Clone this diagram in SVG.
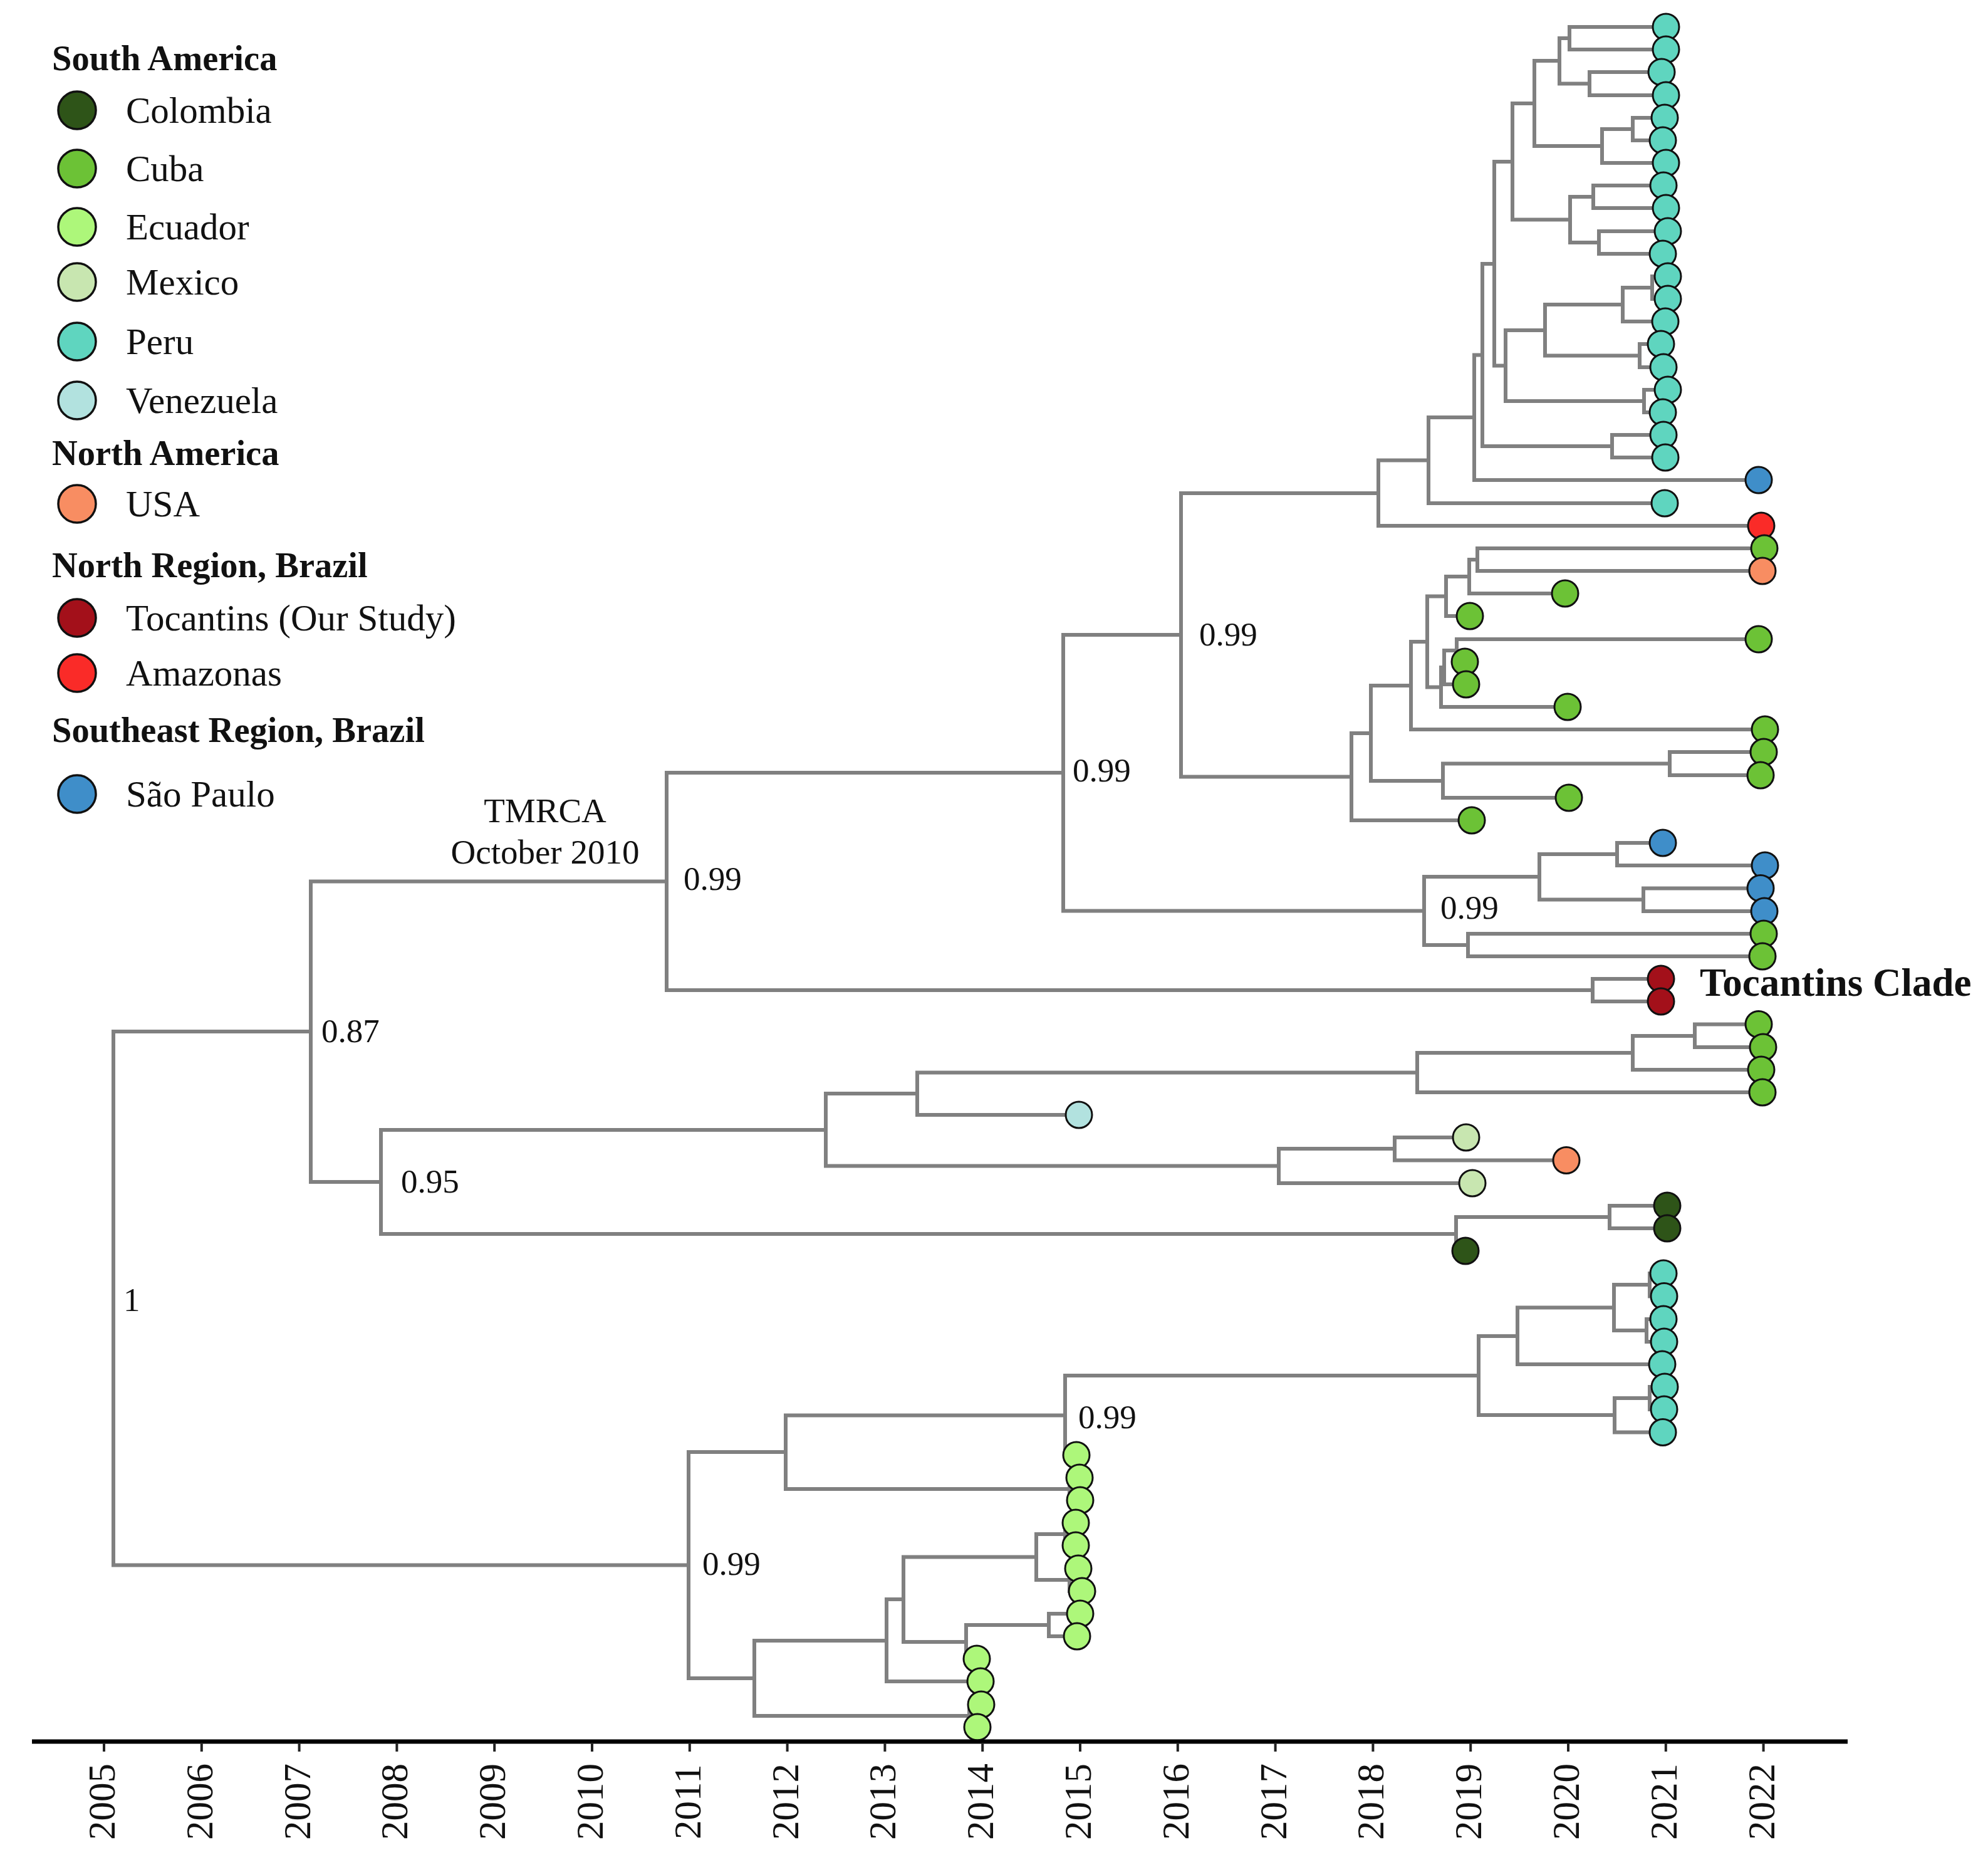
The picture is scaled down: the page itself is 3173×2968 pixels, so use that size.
<svg xmlns="http://www.w3.org/2000/svg" width="3173" height="2968" viewBox="0 0 3173 2968">
<style>
text{font-family:"Liberation Serif","Times New Roman",serif;fill:#111}
.hd{font-weight:bold;font-size:56.5px}
.lb{font-size:59px}
.nl{font-size:53px}
.yr{font-size:61px;fill:#3a3a3a}
.br{fill:none;stroke:#808080;stroke-width:6;stroke-linejoin:miter}
.tip{stroke:#111;stroke-width:3}
.leg{stroke:#111;stroke-width:3.5}
.col{fill:#2e5418}.cub{fill:#6cc236}.ecu{fill:#adf77a}.mex{fill:#c8e6b0}.per{fill:#5fd5bf}.ven{fill:#b2e2df}.usa{fill:#f88d62}.toc{fill:#a3101a}.ama{fill:#fa2b28}.sao{fill:#3f8ec9}
</style>
<rect width="3173" height="2968" fill="#fff"/>
<g id="legend">
<text class="hd" x="83" y="112">South America</text>
<circle class="leg col" cx="123" cy="176" r="30"/><text class="lb" x="201" y="196">Colombia</text>
<circle class="leg cub" cx="123" cy="269" r="30"/><text class="lb" x="201" y="289">Cuba</text>
<circle class="leg ecu" cx="123" cy="362" r="30"/><text class="lb" x="201" y="382">Ecuador</text>
<circle class="leg mex" cx="123" cy="450" r="30"/><text class="lb" x="201" y="470">Mexico</text>
<circle class="leg per" cx="123" cy="545" r="30"/><text class="lb" x="201" y="565">Peru</text>
<circle class="leg ven" cx="123" cy="639" r="30"/><text class="lb" x="201" y="659">Venezuela</text>
<text class="hd" x="83" y="742">North America</text>
<circle class="leg usa" cx="123" cy="804" r="30"/><text class="lb" x="201" y="824">USA</text>
<text class="hd" x="83" y="921">North Region, Brazil</text>
<circle class="leg toc" cx="123" cy="986" r="30"/><text class="lb" x="201" y="1006">Tocantins (Our Study)</text>
<circle class="leg ama" cx="123" cy="1074" r="30"/><text class="lb" x="201" y="1094">Amazonas</text>
<text class="hd" x="83" y="1184">Southeast Region, Brazil</text>
<circle class="leg sao" cx="123" cy="1267" r="30"/><text class="lb" x="201" y="1287">São Paulo</text>
</g>
<g id="connectors" class="br">
<path d="M2659 43H2505V79H2659"/>
<path d="M2652 115H2537V152H2659"/>
<path d="M2505 61H2489V133.5H2537"/>
<path d="M2657 188H2606V224H2654"/>
<path d="M2606 206H2557V260H2659"/>
<path d="M2489 97H2449V233H2557"/>
<path d="M2655 296H2543V332H2659"/>
<path d="M2662 369H2552V405H2654"/>
<path d="M2543 314H2506V387H2552"/>
<path d="M2449 165H2414V350.5H2506"/>
<path d="M2662 441H2637V477H2662"/>
<path d="M2637 459H2590V513H2658"/>
<path d="M2651 549H2617V586H2655"/>
<path d="M2590 486H2466V567.5H2617"/>
<path d="M2662 622H2624V658H2654"/>
<path d="M2466 527H2403V640H2624"/>
<path d="M2414 258H2385V583.5H2403"/>
<path d="M2655 694H2573V730H2658"/>
<path d="M2385 421H2366V712H2573"/>
<path d="M2366 566.5H2353V766H2807"/>
<path d="M2353 666H2280V803H2657"/>
<path d="M2280 734.5H2200V839H2811"/>
<path d="M2816 875H2358V911H2813"/>
<path d="M2358 893H2345V947H2498"/>
<path d="M2345 920H2308V983H2346"/>
<path d="M2807 1020H2325V1056H2338"/>
<path d="M2325 1038H2305V1092H2340"/>
<path d="M2305 1065H2300V1128H2502"/>
<path d="M2308 951.5H2278V1096.5H2300"/>
<path d="M2278 1024H2252V1164H2817"/>
<path d="M2815 1200H2665V1237H2810"/>
<path d="M2665 1218.5H2303V1273H2504"/>
<path d="M2252 1094H2188V1246H2303"/>
<path d="M2188 1170H2157V1309H2349"/>
<path d="M2200 787H1885V1239.5H2157"/>
<path d="M2654 1345H2581V1381H2817"/>
<path d="M2810 1417.5H2623V1454H2816"/>
<path d="M2581 1363H2457V1435.5H2623"/>
<path d="M2815 1490H2343V1526H2813"/>
<path d="M2457 1399H2273V1508H2343"/>
<path d="M1885 1013H1697V1453.5H2273"/>
<path d="M2651 1562H2542V1598H2651"/>
<path d="M1697 1233H1064V1580H2542"/>
<path d="M2807 1634.5H2705V1671H2814"/>
<path d="M2705 1653H2606V1707H2811"/>
<path d="M2606 1680H2262V1743H2813"/>
<path d="M2262 1711.5H1464V1779H1722"/>
<path d="M2340 1815H2226V1851.5H2500"/>
<path d="M2226 1833H2041V1888H2350"/>
<path d="M1464 1745H1318V1860.5H2041"/>
<path d="M2661 1924H2569V1960H2661"/>
<path d="M2569 1942H2324V1996H2339"/>
<path d="M1318 1803H608V1969H2324"/>
<path d="M1064 1406.5H496V1886H608"/>
<path d="M2655 2032H2633V2068.5H2655"/>
<path d="M2655 2105H2628V2141H2655"/>
<path d="M2633 2050H2576V2123H2628"/>
<path d="M2576 2086.5H2422V2177H2655"/>
<path d="M2655 2213H2633V2249H2655"/>
<path d="M2633 2231H2577V2285.5H2655"/>
<path d="M2422 2132H2360V2258H2577"/>
<path d="M2360 2195H1700V2322H1718"/>
<path d="M1723 2358H1707V2394H1724"/>
<path d="M1700 2258.5H1254V2376H1707"/>
<path d="M1717 2430H1700V2466H1717"/>
<path d="M1721 2503H1707V2539H1727"/>
<path d="M1700 2448H1654V2521H1707"/>
<path d="M1724 2575H1674V2611H1719"/>
<path d="M1674 2593H1542V2647H1559"/>
<path d="M1654 2484.5H1442V2620H1542"/>
<path d="M1442 2552H1415V2683H1565"/>
<path d="M1566 2720H1547V2756H1560"/>
<path d="M1415 2618H1204V2738H1547"/>
<path d="M1254 2317H1099V2678H1204"/>
<path d="M496 1646H181V2497.5H1099"/>
</g>
<g id="tips" class="tip">
<g id="t0"><circle class="per" cx="2659" cy="43" r="21"/></g>
<g id="t1"><circle class="per" cx="2659" cy="79" r="21"/></g>
<g id="t2"><circle class="per" cx="2652" cy="115" r="21"/></g>
<g id="t3"><circle class="per" cx="2659" cy="152" r="21"/></g>
<g id="t4"><circle class="per" cx="2657" cy="188" r="21"/></g>
<g id="t5"><circle class="per" cx="2654" cy="224" r="21"/></g>
<g id="t6"><circle class="per" cx="2659" cy="260" r="21"/></g>
<g id="t7"><circle class="per" cx="2655" cy="296" r="21"/></g>
<g id="t8"><circle class="per" cx="2659" cy="332" r="21"/></g>
<g id="t9"><circle class="per" cx="2662" cy="369" r="21"/></g>
<g id="t10"><circle class="per" cx="2654" cy="405" r="21"/></g>
<g id="t11"><circle class="per" cx="2662" cy="441" r="21"/></g>
<g id="t12"><circle class="per" cx="2662" cy="477" r="21"/></g>
<g id="t13"><circle class="per" cx="2658" cy="513" r="21"/></g>
<g id="t14"><circle class="per" cx="2651" cy="549" r="21"/></g>
<g id="t15"><circle class="per" cx="2655" cy="586" r="21"/></g>
<g id="t16"><circle class="per" cx="2662" cy="622" r="21"/></g>
<g id="t17"><circle class="per" cx="2654" cy="658" r="21"/></g>
<g id="t18"><circle class="per" cx="2655" cy="694" r="21"/></g>
<g id="t19"><circle class="per" cx="2658" cy="730" r="21"/></g>
<g id="t20"><circle class="sao" cx="2807" cy="766" r="21"/></g>
<g id="t21"><circle class="per" cx="2657" cy="803" r="21"/></g>
<g id="t22"><circle class="ama" cx="2811" cy="839" r="21"/></g>
<g id="t23"><circle class="cub" cx="2816" cy="875" r="21"/></g>
<g id="t24"><circle class="usa" cx="2813" cy="911" r="21"/></g>
<g id="t25"><circle class="cub" cx="2498" cy="947" r="21"/></g>
<g id="t26"><circle class="cub" cx="2346" cy="983" r="21"/></g>
<g id="t27"><circle class="cub" cx="2807" cy="1020" r="21"/></g>
<g id="t28"><circle class="cub" cx="2338" cy="1056" r="21"/></g>
<g id="t29"><circle class="cub" cx="2340" cy="1092" r="21"/></g>
<g id="t30"><circle class="cub" cx="2502" cy="1128" r="21"/></g>
<g id="t31"><circle class="cub" cx="2817" cy="1164" r="21"/></g>
<g id="t32"><circle class="cub" cx="2815" cy="1200" r="21"/></g>
<g id="t33"><circle class="cub" cx="2810" cy="1237" r="21"/></g>
<g id="t34"><circle class="cub" cx="2504" cy="1273" r="21"/></g>
<g id="t35"><circle class="cub" cx="2349" cy="1309" r="21"/></g>
<g id="t36"><circle class="sao" cx="2654" cy="1345" r="21"/></g>
<g id="t37"><circle class="sao" cx="2817" cy="1381" r="21"/></g>
<g id="t38"><circle class="sao" cx="2810" cy="1417.5" r="21"/></g>
<g id="t39"><circle class="sao" cx="2816" cy="1454" r="21"/></g>
<g id="t40"><circle class="cub" cx="2815" cy="1490" r="21"/></g>
<g id="t41"><circle class="cub" cx="2813" cy="1526" r="21"/></g>
<g id="t42"><circle class="toc" cx="2651" cy="1562" r="21"/></g>
<g id="t43"><circle class="toc" cx="2651" cy="1598" r="21"/></g>
<g id="t44"><circle class="cub" cx="2807" cy="1634.5" r="21"/></g>
<g id="t45"><circle class="cub" cx="2814" cy="1671" r="21"/></g>
<g id="t46"><circle class="cub" cx="2811" cy="1707" r="21"/></g>
<g id="t47"><circle class="cub" cx="2813" cy="1743" r="21"/></g>
<g id="t48"><circle class="ven" cx="1722" cy="1779" r="21"/></g>
<g id="t49"><circle class="mex" cx="2340" cy="1815" r="21"/></g>
<g id="t50"><circle class="usa" cx="2500" cy="1851.5" r="21"/></g>
<g id="t51"><circle class="mex" cx="2350" cy="1888" r="21"/></g>
<g id="t52"><circle class="col" cx="2661" cy="1924" r="21"/></g>
<g id="t53"><circle class="col" cx="2661" cy="1960" r="21"/></g>
<g id="t54"><circle class="col" cx="2339" cy="1996" r="21"/></g>
<g id="t55"><circle class="per" cx="2655" cy="2032" r="21"/></g>
<g id="t56"><circle class="per" cx="2656" cy="2068.5" r="21"/></g>
<g id="t57"><circle class="per" cx="2655" cy="2105" r="21"/></g>
<g id="t58"><circle class="per" cx="2656" cy="2141" r="21"/></g>
<g id="t59"><circle class="per" cx="2653" cy="2177" r="21"/></g>
<g id="t60"><circle class="per" cx="2657" cy="2213" r="21"/></g>
<g id="t61"><circle class="per" cx="2656" cy="2249" r="21"/></g>
<g id="t62"><circle class="per" cx="2654" cy="2285.5" r="21"/></g>
<g id="t63"><circle class="ecu" cx="1718" cy="2322" r="21"/></g>
<g id="t64"><circle class="ecu" cx="1723" cy="2358" r="21"/></g>
<g id="t65"><circle class="ecu" cx="1724" cy="2394" r="21"/></g>
<g id="t66"><circle class="ecu" cx="1717" cy="2430" r="21"/></g>
<g id="t67"><circle class="ecu" cx="1717" cy="2466" r="21"/></g>
<g id="t68"><circle class="ecu" cx="1721" cy="2503" r="21"/></g>
<g id="t69"><circle class="ecu" cx="1727" cy="2539" r="21"/></g>
<g id="t70"><circle class="ecu" cx="1724" cy="2575" r="21"/></g>
<g id="t71"><circle class="ecu" cx="1719" cy="2611" r="21"/></g>
<g id="t72"><circle class="ecu" cx="1559" cy="2647" r="21"/></g>
<g id="t73"><circle class="ecu" cx="1565" cy="2683" r="21"/></g>
<g id="t74"><circle class="ecu" cx="1566" cy="2720" r="21"/></g>
<g id="t75"><circle class="ecu" cx="1560" cy="2756" r="21"/></g>
</g>
<g id="node-labels">
<text class="nl" x="197" y="2092">1</text>
<text class="nl" x="513" y="1663">0.87</text>
<text class="nl" x="640" y="1903">0.95</text>
<text class="nl" x="1091" y="1420">0.99</text>
<text class="nl" x="1712" y="1247">0.99</text>
<text class="nl" x="1914" y="1030">0.99</text>
<text class="nl" x="2299" y="1466">0.99</text>
<text class="nl" x="1721" y="2279">0.99</text>
<text class="nl" x="1121" y="2513">0.99</text>
<text x="870" y="1312" text-anchor="middle" style="font-size:55px">TMRCA</text>
<text x="870" y="1378" text-anchor="middle" style="font-size:55px">October 2010</text>
<text x="2713" y="1589" style="font-weight:bold;font-size:63px">Tocantins Clade</text>
</g>
<g id="axis">
<line x1="51" y1="2779" x2="2949" y2="2779" stroke="#000" stroke-width="7"/>
<path d="M166 2781V2795M321.8 2781V2795M477.6 2781V2795M633.4 2781V2795M789.2 2781V2795M945 2781V2795M1100.8 2781V2795M1256.6 2781V2795M1412.4 2781V2795M1568.2 2781V2795M1724 2781V2795M1879.8 2781V2795M2035.6 2781V2795M2191.4 2781V2795M2347.2 2781V2795M2503 2781V2795M2658.8 2781V2795M2814.6 2781V2795" stroke="#222" stroke-width="4"/>
<g class="yr" text-anchor="middle">
<text transform="translate(183 2875) rotate(-90)">2005</text>
<text transform="translate(338.8 2875) rotate(-90)">2006</text>
<text transform="translate(494.6 2875) rotate(-90)">2007</text>
<text transform="translate(650.4 2875) rotate(-90)">2008</text>
<text transform="translate(806.2 2875) rotate(-90)">2009</text>
<text transform="translate(962 2875) rotate(-90)">2010</text>
<text transform="translate(1117.8 2875) rotate(-90)">2011</text>
<text transform="translate(1273.6 2875) rotate(-90)">2012</text>
<text transform="translate(1429.4 2875) rotate(-90)">2013</text>
<text transform="translate(1585.2 2875) rotate(-90)">2014</text>
<text transform="translate(1741 2875) rotate(-90)">2015</text>
<text transform="translate(1896.8 2875) rotate(-90)">2016</text>
<text transform="translate(2052.6 2875) rotate(-90)">2017</text>
<text transform="translate(2208.4 2875) rotate(-90)">2018</text>
<text transform="translate(2364.2 2875) rotate(-90)">2019</text>
<text transform="translate(2520 2875) rotate(-90)">2020</text>
<text transform="translate(2675.8 2875) rotate(-90)">2021</text>
<text transform="translate(2831.6 2875) rotate(-90)">2022</text>
</g>
</g>
</svg>
